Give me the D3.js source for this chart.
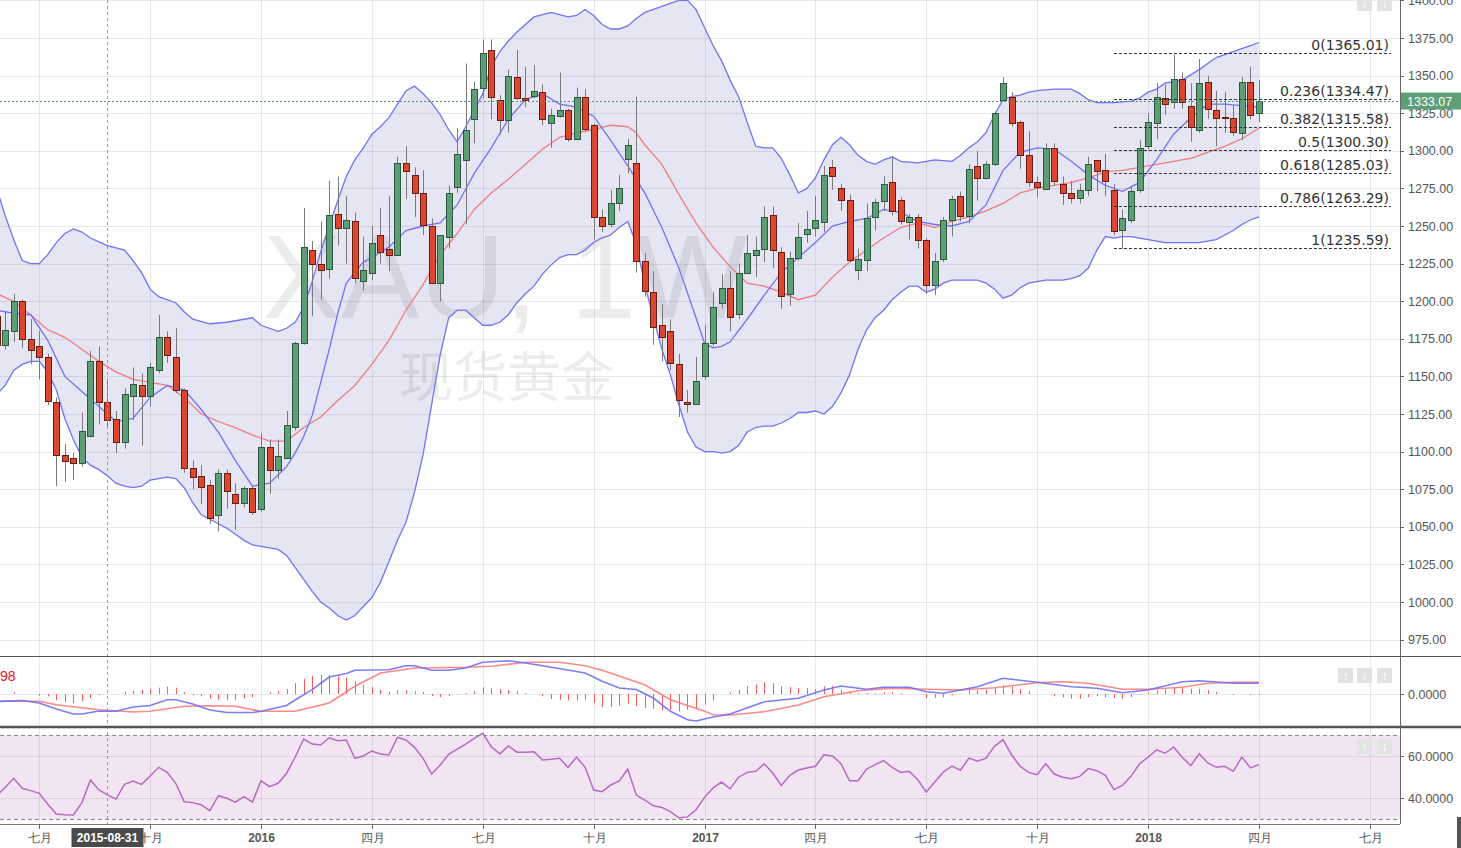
<!DOCTYPE html>
<html>
<head>
<meta charset="utf-8">
<script src="https://cdn.jsdelivr.net/npm/d3@7"></script>
<style>
  html, body { margin: 0; padding: 0; background: #fff; overflow: hidden; }
  svg { display: block; font-family: "Liberation Sans", Arial, sans-serif; }
</style>
</head>
<body>
<svg id="chart" width="1461" height="848"></svg>
<script>
// ———————————————————————————
// 1. Data (weekly XAU candles, index 0 = week of 2015-06-08)
// ———————————————————————————
const week0 = Date.UTC(2015, 5, 8);
const firstK = -1;

const opens = [
  1190,1171,1180,1200,1175,1170,1163,1133,1098,1096,
  1093,1110,1160,1133,1122,1106,1137,1144,1137,1154,
  1176,1163,1141,1089,1084,1078,1058,1086,1072,1066,
  1076,1062,1103,1088,1096,1116,1172,1234,1225,1221,
  1258,1249,1253,1214,1219,1244,1235,1231,1292,1284,
  1272,1250,1212,1243,1276,1294,1321,1342,1367,1334,
  1321,1349,1335,1337,1339,1319,1323,1327,1308,1336,
  1317,1256,1251,1265,1295,1292,1227,1206,1184,1180,
  1158,1133,1132,1150,1172,1199,1209,1192,1219,1231,
  1235,1257,1233,1205,1229,1245,1249,1253,1289,1275,
  1267,1221,1227,1256,1267,1279,1267,1253,1256,1241,
  1211,1228,1254,1270,1257,1290,1282,1291,1334,1336,
  1319,1297,1279,1275,1302,1278,1272,1269,1274,1294,
  1287,1274,1247,1254,1274,1303,1319,1335,1333,1348,
  1330,1314,1346,1327,1322.5,1322,1312,1346,1325
];
const highs = [
  1195,1193,1205,1201,1188,1180,1165,1136,1105,1099,
  1126,1167,1170,1148,1127,1142,1156,1152,1159,1191,
  1180,1182,1142,1094,1091,1081,1088,1088,1079,1077,
  1077,1112,1108,1108,1127,1173,1262,1240,1253,1280,
  1283,1270,1259,1243,1250,1262,1270,1296,1303,1289,
  1287,1255,1244,1277,1315,1358,1346,1374,1374,1337,
  1354,1367,1356,1357,1344,1328,1352,1328,1342,1341,
  1318,1261,1274,1284,1308,1336,1232,1220,1198,1188,
  1165,1141,1163,1184,1206,1218,1220,1225,1244,1243,
  1263,1263,1236,1233,1252,1260,1270,1290,1294,1278,
  1271,1235,1265,1268,1283,1296,1269,1258,1258,1242,
  1232,1256,1270,1273,1291,1300,1293,1326,1349,1339,
  1320,1313,1283,1305,1305,1283,1280,1278,1296,1294,
  1298,1278,1261,1276,1307,1325,1345,1344,1364,1352,
  1345,1361,1350,1340,1339,1330,1349,1356,1347
];
const lows = [
  1168,1168,1173,1169,1158,1148,1131,1077,1080,1081,
  1090,1110,1118,1116,1099,1102,1121,1104,1130,1152,
  1159,1139,1086,1075,1065,1052,1047,1062,1048,1063,
  1058,1060,1072,1082,1095,1114,1171,1190,1201,1215,
  1237,1225,1212,1207,1214,1225,1220,1230,1268,1256,
  1244,1212,1200,1235,1272,1251,1305,1335,1321,1311,
  1312,1334,1329,1335,1317,1302,1322,1306,1307,1313,
  1241,1246,1249,1260,1285,1219,1203,1171,1160,1154,
  1123,1126,1131,1148,1170,1195,1180,1188,1218,1216,
  1226,1222,1195,1197,1227,1239,1243,1246,1274,1260,
  1226,1214,1220,1247,1260,1257,1251,1241,1235,1205,
  1204,1226,1243,1253,1252,1267,1281,1290,1333,1316,
  1288,1276,1269,1274,1277,1264,1265,1265,1270,1273,
  1270,1244,1235,1252,1272,1301,1308,1324,1328,1328,
  1306,1312,1321,1303,1312,1310,1307,1321,1319
];
const closes = [
  1171,1181,1200,1175,1168,1163,1134,1098,1094,1093,
  1114,1160,1133,1121,1107,1138,1145,1137,1156,1176,
  1164,1141,1089,1083,1077,1056,1086,1074,1066,1076,
  1060,1103,1088,1097,1118,1172,1236,1225,1221,1257,
  1249,1254,1215,1221,1239,1233,1231,1292,1287,1272,
  1251,1212,1244,1272,1298,1314,1341,1365,1336,1321,
  1350,1335,1334,1340,1321,1324,1327,1308,1336,1315,
  1256,1250,1265,1275,1304,1227,1207,1183,1176,1159,
  1134,1132,1147,1172,1196,1209,1190,1219,1232,1234,
  1256,1234,1204,1229,1243,1248,1254,1284,1283,1267,
  1227,1228,1255,1266,1278,1260,1253,1256,1241,1211,
  1227,1254,1268,1257,1288,1282,1291,1325,1345,1319,
  1297,1279,1276,1302,1280,1272,1269,1274,1291,1287,
  1280,1247,1255,1273,1302,1319,1336,1331,1348,1333,
  1316,1345,1328,1322,1322,1313,1346,1324,1333.07
];
const lastPrice = 1333.07;

// Bollinger bands + moving averages, [week index, price]
const bbUpper = [
  [-1,1275],[0,1257],[1,1241],[2,1227],[3,1225],[4,1225],[5,1231],[6,1239],[7,1245],[8,1248],
  [9,1246],[10,1242],[12,1237],[14,1234],[15,1227],[16,1219],[17,1208],[18,1203],[20,1199],
  [21,1193],[22,1188],[24,1185],[26,1186],[28,1188],[29,1189],[30,1184],[32,1180],[33,1182],
  [34,1186],[35,1196],[36,1213],[37,1233],[38,1250],[39,1267],[40,1283],[41,1294],[42,1302],
  [43,1311],[44,1316],[45,1322],[46,1331],[47,1340],[48,1343],[49,1338],[50,1332],[51,1324],
  [52,1314],[53,1306],[54,1316],[55,1327],[56,1338],[57,1356],[58,1366],[59,1373],[60,1379],
  [62,1389],[64,1392],[66,1389],[67,1390],[68,1394],[69,1390],[70,1384],[71,1381],[72,1381],
  [73,1383],[74,1388],[75,1392],[76,1394],[77,1396],[78,1398],[79,1400],[80,1400],[81,1394],
  [82,1382],[83,1370],[84,1360],[85,1347],[86,1336],[87,1319],[88,1303],[89,1302],[90,1302],
  [91,1295],[92,1284],[93,1272],[94,1275],[95,1282],[96,1294],[97,1304],[98,1309],[99,1304],
  [100,1297],[101,1293],[102,1291],[103,1294],[104,1296],[105,1293],[107,1292],[109,1294],
  [111,1293],[112,1297],[113,1302],[114,1306],[115,1312],[116,1324],[117,1334],[118,1336],
  [119,1337],[120,1339],[121,1340],[123,1341],[125,1341],[126,1338],[127,1334],[128,1332],
  [130,1332],[132,1333],[133,1335],[134,1339],[135,1341],[136,1345],[137,1346],[138,1347],
  [140,1354],[141,1358],[142,1362],[143,1364],[144,1366],[145,1368],[146,1370],[147,1372]
];
const bbLower = [
  [-1,1138],[0,1144],[1,1154],[2,1158],[3,1160],[4,1160],[5,1153],[6,1141],[7,1122],[8,1108],
  [9,1096],[10,1091],[11,1088],[12,1084],[13,1079],[14,1077],[15,1076],[16,1077],[17,1081],
  [18,1082],[19,1083],[20,1082],[21,1076],[22,1066],[23,1058],[24,1055],[25,1052],[26,1049],
  [27,1045],[28,1041],[29,1038],[30,1037],[31,1036],[32,1035],[33,1031],[34,1023],[35,1015],
  [36,1007],[37,1000],[38,996],[39,991],[40,988],[41,991],[42,997],[43,1003],[44,1013],
  [45,1027],[46,1041],[47,1053],[48,1073],[49,1098],[50,1131],[51,1164],[52,1189],[53,1194],
  [54,1194],[55,1189],[56,1184],[57,1184],[58,1186],[59,1191],[60,1199],[61,1205],[62,1210],
  [63,1218],[64,1224],[65,1229],[66,1231],[67,1231],[68,1234],[69,1239],[70,1242],[71,1244],
  [72,1249],[73,1253],[74,1238],[75,1211],[76,1189],[77,1168],[78,1151],[79,1131],[80,1113],
  [81,1103],[82,1100],[83,1100],[84,1099],[85,1100],[86,1104],[87,1113],[88,1116],[89,1117],
  [90,1117],[91,1119],[92,1122],[93,1126],[94,1126],[95,1127],[96,1125],[97,1130],[98,1139],
  [99,1151],[100,1168],[101,1181],[102,1189],[103,1194],[104,1201],[105,1206],[106,1210],
  [107,1210],[108,1206],[109,1208],[110,1212],[111,1214],[112,1214],[113,1214],[114,1214],
  [115,1212],[116,1208],[117,1202],[118,1204],[119,1209],[120,1212],[121,1213],[122,1214],
  [124,1214],[125,1215],[126,1217],[127,1222],[128,1234],[129,1243],[130,1242],[131,1243],
  [132,1243],[133,1242],[134,1241],[135,1240],[136,1239],[137,1239],[139,1239],[140,1239],
  [141,1240],[142,1241],[143,1244],[144,1247],[145,1251],[146,1254],[147,1256]
];
const maSlow = [
  [-1,1205],[1,1200],[3,1191],[5,1181],[7,1176],[9,1168],[11,1160],[13,1153],[15,1148],
  [17,1146],[19,1144],[21,1136],[23,1125],[25,1120],[27,1116],[29,1111],[31,1107],[33,1107],
  [35,1116],[37,1123],[39,1134],[41,1144],[43,1158],[45,1174],[47,1194],[49,1211],[51,1231],
  [53,1245],[55,1261],[57,1272],[59,1281],[61,1291],[63,1301],[65,1309],[67,1312],[69,1314],
  [71,1317],[73,1316],[74,1312],[75,1304],[77,1291],[79,1271],[81,1252],[83,1236],[85,1223],
  [87,1212],[89,1210],[91,1206],[93,1201],[95,1204],[97,1216],[99,1226],[101,1234],[103,1242],
  [105,1249],[107,1252],[109,1249],[111,1253],[113,1256],[115,1260],[117,1265],[119,1272],
  [121,1275],[123,1277],[125,1279],[127,1282],[129,1286],[131,1287],[133,1289],[135,1291],
  [137,1293],[139,1295],[141,1299],[143,1303],[145,1308],[147,1315]
];
const maFast = [
  [-1,1194],[1,1192],[3,1191],[5,1174],[7,1150],[9,1140],[11,1130],[13,1120],[15,1122],
  [17,1136],[19,1144],[21,1141],[23,1128],[25,1113],[27,1094],[29,1077],[31,1079],[33,1090],
  [34,1099],[35,1110],[36,1124],[37,1146],[38,1168],[39,1192],[40,1212],[42,1226],[43,1229],
  [45,1236],[47,1247],[49,1250],[51,1252],[53,1264],[55,1285],[57,1302],[59,1321],[61,1334],
  [63,1338],[65,1331],[67,1329],[69,1323],[71,1307],[73,1290],[75,1272],[77,1249],[79,1222],
  [81,1189],[82,1172],[83,1169],[84,1170],[85,1173],[87,1188],[89,1204],[91,1219],[93,1229],
  [95,1239],[97,1250],[99,1253],[101,1255],[103,1261],[105,1259],[107,1253],[109,1251],
  [111,1250],[113,1253],[115,1264],[117,1287],[119,1299],[121,1302],[123,1301],[125,1293],
  [127,1284],[129,1277],[131,1273],[133,1279],[135,1294],[137,1311],[139,1322],[141,1331],
  [143,1331],[145,1330],[147,1329]
];

// MACD pane, [week index, value]
const macdLine = [
  [-1,-7.5],[2,-6.5],[4,-9],[6,-15],[8,-20],[9,-20],[11,-17],[13,-17.3],[15,-13],[17,-11.5],
  [19,-5.7],[20,-5.7],[22,-10],[24,-16],[26,-18.5],[29,-18.5],[30,-17.3],[33,-11.5],[34,-6],
  [36,4.3],[38,17],[40,20.5],[41,23.7],[45,24.3],[47,28.3],[48,28.3],[50,23.7],[52,23.7],
  [54,26],[56,31.7],[59,33.3],[61,31],[63,28.3],[68,21],[70,12.7],[72,6],[74,4.5],[76,-4],
  [78,-17.3],[80,-25.7],[81,-27],[83,-23],[85,-20],[89,-7.7],[93,-4.3],[96,4],[98,8],
  [101,4.7],[103,6.7],[106,6.7],[108,2.3],[110,0.7],[112,4],[114,7.3],[117,15.7],[121,11.7],
  [125,7.3],[128,5.7],[131,1.3],[134,4],[138,12.3],[140,13.3],[142,12],[144,10.7],[147,10.7]
];
const macdSignal = [
  [-1,-7.3],[4,-7.3],[6,-10.7],[11,-15.7],[15,-18],[17,-17.3],[21,-12.3],[24,-11.7],[27,-12.3],
  [30,-17.3],[34,-17.3],[38,-9],[41,7.7],[44,21],[48,26],[54,26.7],[57,27.7],[61,31.7],
  [65,31.7],[68,28.3],[70,23.7],[75,9.3],[78,-5.7],[82,-17.3],[83,-20.7],[85,-21],[89,-17.7],
  [93,-11],[96,-2.7],[100,3.3],[104,5.7],[108,4.7],[112,4],[116,6.3],[121,11.3],[124,12.3],
  [127,10.7],[131,4.7],[134,4.7],[138,6.7],[141,10.7],[144,11.7],[147,11.7]
];
// one histogram value per candle, from firstK
const macdHist = [
  0,0,1.7,0,0,-1.7,-2.3,-6.3,-8,-9,
  -7.3,-4,-1,0,0,2,3,4.3,5.3,6.3,
  7.3,6.3,1.7,-1.3,-2.3,-4.3,-5.7,-6.3,-5.7,-4.3,
  -3.3,0,1.7,2.7,5,11,15,18.3,19,19,
  17.7,16,12.7,9.3,7,4.3,2,3.7,3.7,2.7,
  2,-2,-3,-2,-0.7,1,2.7,6.7,6,5,
  3.7,2.7,1,0,-2.3,-5,-5.7,-6.3,-6.3,-5.7,
  -9,-13,-13,-11.7,-9.7,-12.3,-14,-15,-16.3,-16.3,
  -17.3,-15.7,-15,-10.7,-6.3,0,1.7,4.3,7.7,9.3,
  11.7,11,7.7,7,6,6,5,7.7,8.3,4.3,
  1.7,1,1,1,1.7,1.7,1,0,0,-4,
  -4,-3.3,-1.3,0,3.7,3.7,4.3,6,8.7,7.7,
  5,2.7,0,0,-2.3,-3.3,-4.7,-4.7,-3.3,-2.3,
  -3.3,-4,-4.7,-3,-0.7,1.7,3.7,5.3,6,6,
  5.3,5.3,3.7,2,0,-1,0,-1,-1
];
// RSI, one value per candle, from firstK
const rsi = [
  41,45,49.4,44.6,43.5,42.2,37,32.4,32,31.9,
  37.8,48.6,43.8,41.5,39.5,46.5,48.1,46.5,50.5,54.6,
  52.2,47,38.2,37.8,36.7,34,41.1,39.9,38,40.6,
  38,48.2,45.4,47,51.8,59.4,68.1,65.7,65.2,68.7,
  67.3,67.6,58.9,60,62.4,61,60.5,68.9,67.6,64.1,
  58.9,51.4,55.7,60.8,63.3,65.7,68.4,70.8,64.4,61,
  64.8,61.8,61.8,62,58.1,58.4,58.9,54.6,59.4,54.6,
  43.8,43,46.2,48.1,53.7,41.4,39,36.3,35.5,33.5,
  30.6,31,34.4,40.3,44.8,47.6,44.4,49.9,52.2,52.7,
  56.3,51.9,46,50.8,53.3,54.3,55.1,60.6,60,56.3,
  48.2,48.2,53.8,55.9,57.8,54.6,52.2,52.7,48.7,42.9,
  47.6,52.4,55.2,53.2,59,57.5,59,64.6,67.8,60.6,
  55.1,52.2,51.1,56.3,51.4,49.9,49.2,50.3,54,53,
  50.8,44,46,50.3,56.3,59.4,62.9,61.3,64.3,59.4,
  55.4,61.1,56.7,54.6,55.1,52.7,59.5,54.3,55.9
];

// Fibonacci retracement
const fibRatios = [0, 0.236, 0.382, 0.5, 0.618, 0.786, 1];
const fibPrices = [1365.01, 1334.47, 1315.58, 1300.30, 1285.03, 1263.29, 1235.59];
const fibStartK = 130;

// axes
const priceTicks = d3.range(975, 1401, 25);
const tickDates = ["2015-07-06","2015-10-05","2016-01-04","2016-04-04","2016-07-04","2016-10-03",
  "2017-01-02","2017-04-03","2017-07-03","2017-10-02","2018-01-01","2018-04-02","2018-07-02"];
const tickLabels = ["七月","十月","2016","四月","七月","十月","2017","四月","七月","十月","2018","四月","七月"];
const cursorDate = "2015-08-31";

// ———————————————————————————
// 2. Layout + scales
// ———————————————————————————
const svg = d3.select("#chart");
const width = 1461;
const plotR = 1400;
const mainB = 656, macdT = 657, macdB = 727, rsiT = 728, rsiB = 824;

const weekDate = k => new Date(week0 + k * 7 * 864e5);
const x = d3.scaleUtc().domain([weekDate(-1), weekDate(160)]).range([-3.4, 1369.8]);
const y = d3.scaleLinear().domain([1000, 1400]).range([602, 0.4]);
const yMacd = d3.scaleLinear().domain([-30, 30]).range([724, 664]);
const yRsi = d3.scaleLinear().domain([30, 70]).range([819, 735]);
const xk = k => x(weekDate(k));

const defs = svg.append("defs");
defs.append("clipPath").attr("id", "clipMain")
  .append("rect").attr("x", 0).attr("y", 0).attr("width", plotR).attr("height", mainB);
defs.append("clipPath").attr("id", "clipMacd")
  .append("rect").attr("x", 0).attr("y", macdT).attr("width", plotR).attr("height", macdB - macdT);
defs.append("clipPath").attr("id", "clipRsi")
  .append("rect").attr("x", 0).attr("y", rsiT).attr("width", plotR).attr("height", rsiB - rsiT);

// ———————————————————————————
// 3. Backgrounds + grid
// ———————————————————————————
svg.append("rect").attr("width", width).attr("height", 848).attr("fill", "#fff");

// RSI band background
svg.append("rect")
  .attr("x", 0).attr("y", yRsi(70)).attr("width", plotR).attr("height", yRsi(30) - yRsi(70))
  .attr("fill", "#f1e5f2");

const grid = svg.append("g").attr("stroke", "rgba(0,0,0,0.085)").attr("stroke-width", 1);
grid.selectAll("line.v").data(tickDates).join("line")
  .attr("x1", d => Math.round(x(new Date(d))) + 0.5).attr("x2", d => Math.round(x(new Date(d))) + 0.5)
  .attr("y1", 0).attr("y2", rsiB);
grid.selectAll("line.h").data(priceTicks).join("line")
  .attr("x1", 0).attr("x2", plotR)
  .attr("y1", d => Math.round(y(d)) + 0.5).attr("y2", d => Math.round(y(d)) + 0.5);
grid.append("line").attr("x1", 0).attr("x2", plotR)
  .attr("y1", Math.round(yMacd(0)) + 0.5).attr("y2", Math.round(yMacd(0)) + 0.5);
[40, 60].forEach(v => grid.append("line").attr("x1", 0).attr("x2", plotR)
  .attr("y1", Math.round(yRsi(v)) + 0.5).attr("y2", Math.round(yRsi(v)) + 0.5));

// ———————————————————————————
// 4. Main price pane
// ———————————————————————————
const main = svg.append("g").attr("clip-path", "url(#clipMain)");
const priceLine = d3.line().x(d => xk(d[0])).y(d => y(d[1]));

// Bollinger fill
main.append("path")
  .attr("d", priceLine(bbUpper.concat(bbLower.slice().reverse())) + "Z")
  .attr("fill", "rgba(70,70,170,0.14)");

// watermark
main.append("text").attr("x", 505).attr("y", 318).attr("text-anchor", "middle")
  .attr("font-size", 118).attr("fill", "rgba(0,0,0,0.075)").text("XAU, 1W");
main.append("text").attr("x", 507).attr("y", 397).attr("text-anchor", "middle")
  .attr("font-family", "'Noto Sans CJK SC', sans-serif")
  .attr("font-size", 54).attr("fill", "rgba(0,0,0,0.075)").text("现货黄金");

main.append("path").attr("d", priceLine(maSlow))
  .attr("fill", "none").attr("stroke", "#ef7d7d").attr("stroke-width", 1.3);
[maFast, bbUpper, bbLower].forEach(s => main.append("path").attr("d", priceLine(s))
  .attr("fill", "none").attr("stroke", "#7272f6").attr("stroke-width", 1.3));

// candles
const candles = opens.map((o, i) => ({ k: i + firstK, o, h: highs[i], l: lows[i], c: closes[i] }));
const cg = main.append("g");
cg.selectAll("line").data(candles).join("line")
  .attr("x1", d => Math.round(xk(d.k)) + 0.5).attr("x2", d => Math.round(xk(d.k)) + 0.5)
  .attr("y1", d => y(d.h)).attr("y2", d => y(d.l))
  .attr("stroke", "#7a7a7a").attr("stroke-width", 1);
cg.selectAll("rect").data(candles).join("rect")
  .attr("x", d => Math.round(xk(d.k)) - 2.5)
  .attr("y", d => Math.round(y(Math.max(d.o, d.c))) + 0.5)
  .attr("width", 6)
  .attr("height", d => Math.max(1, Math.round(Math.abs(y(d.o) - y(d.c)))))
  .attr("fill", d => d.c >= d.o ? "#5e9e76" : "#d9472f")
  .attr("stroke", d => d.c >= d.o ? "#2d5a3c" : "#6a1c12")
  .attr("stroke-width", 1);

// last price line
main.append("line").attr("x1", 0).attr("x2", plotR)
  .attr("y1", Math.round(y(lastPrice)) + 0.5).attr("y2", Math.round(y(lastPrice)) + 0.5)
  .attr("stroke", "#4f9a6c").attr("stroke-dasharray", "2,2");

// fibonacci levels
const fib = main.append("g");
fib.selectAll("line").data(fibPrices).join("line")
  .attr("x1", xk(fibStartK)).attr("x2", 1391)
  .attr("y1", d => Math.round(y(d)) + 0.5).attr("y2", d => Math.round(y(d)) + 0.5)
  .attr("stroke", "#333").attr("stroke-dasharray", "3,2");
fib.selectAll("text").data(fibPrices).join("text")
  .attr("x", 1389).attr("y", d => y(d) - 3).attr("text-anchor", "end")
  .attr("font-family", "'DejaVu Sans', sans-serif").attr("font-size", 14).attr("fill", "#333")
  .text((d, i) => `${fibRatios[i]}(${d.toFixed(2)})`);

// ———————————————————————————
// 5. MACD pane
// ———————————————————————————
const macd = svg.append("g").attr("clip-path", "url(#clipMacd)");
macd.selectAll("line").data(macdHist.map((v, i) => ({ k: i + firstK, v })).filter(d => d.v !== 0))
  .join("line")
  .attr("x1", d => Math.round(xk(d.k)) + 0.5).attr("x2", d => Math.round(xk(d.k)) + 0.5)
  .attr("y1", yMacd(0)).attr("y2", d => yMacd(d.v))
  .attr("stroke", "#ff5a5a").attr("stroke-width", 1);
const macdPath = d3.line().x(d => xk(d[0])).y(d => yMacd(d[1]));
macd.append("path").attr("d", macdPath(macdSignal))
  .attr("fill", "none").attr("stroke", "#ff7b7b").attr("stroke-width", 1.6).attr("opacity", 0.9);
macd.append("path").attr("d", macdPath(macdLine))
  .attr("fill", "none").attr("stroke", "#6f6ff8").attr("stroke-width", 1.6).attr("opacity", 0.9);
svg.append("text").attr("x", 0).attr("y", 681).attr("font-size", 14).attr("fill", "#e8141a").text("98");

// ———————————————————————————
// 6. RSI pane
// ———————————————————————————
const rsiG = svg.append("g").attr("clip-path", "url(#clipRsi)");
[30, 70].forEach(v => rsiG.append("line").attr("x1", 0).attr("x2", plotR)
  .attr("y1", Math.round(yRsi(v)) + 0.5).attr("y2", Math.round(yRsi(v)) + 0.5)
  .attr("stroke", "#8a8a8a").attr("stroke-dasharray", "4,3"));
rsiG.append("path")
  .attr("d", d3.line().x((d, i) => xk(i + firstK)).y(d => yRsi(d))(rsi))
  .attr("fill", "none").attr("stroke", "#b76ac2").attr("stroke-width", 1.5);

// ———————————————————————————
// 7. Cursor, borders, axes
// ———————————————————————————
const cx = Math.round(x(new Date(cursorDate))) + 0.5;
svg.append("line").attr("x1", cx).attr("x2", cx).attr("y1", 0).attr("y2", rsiB)
  .attr("stroke", "#9a9a9a").attr("stroke-dasharray", "3,3");

svg.append("line").attr("x1", 0).attr("x2", width).attr("y1", 656.5).attr("y2", 656.5)
  .attr("stroke", "#555");
svg.append("line").attr("x1", 0).attr("x2", width).attr("y1", 727).attr("y2", 727)
  .attr("stroke", "#555").attr("stroke-width", 2.5);
svg.append("line").attr("x1", 0).attr("x2", plotR).attr("y1", rsiB + 0.5).attr("y2", rsiB + 0.5)
  .attr("stroke", "#777");
svg.append("line").attr("x1", plotR + 0.5).attr("x2", plotR + 0.5).attr("y1", 0).attr("y2", rsiB)
  .attr("stroke", "#666");

// right price axis
const ax = svg.append("g").attr("font-size", 12.5).attr("fill", "#555");
ax.selectAll("line").data(priceTicks).join("line")
  .attr("x1", plotR).attr("x2", plotR + 4)
  .attr("y1", d => Math.round(y(d)) + 0.5).attr("y2", d => Math.round(y(d)) + 0.5)
  .attr("stroke", "#666");
ax.selectAll("text").data(priceTicks).join("text")
  .attr("x", 1408).attr("y", d => y(d)).attr("dy", "0.36em")
  .text(d => d.toFixed(2));
[[yMacd(0), "0.0000"], [yRsi(60), "60.0000"], [yRsi(40), "40.0000"]].forEach(([py, t]) => {
  ax.append("line").attr("x1", plotR).attr("x2", plotR + 4)
    .attr("y1", Math.round(py) + 0.5).attr("y2", Math.round(py) + 0.5).attr("stroke", "#666");
  ax.append("text").attr("x", 1408).attr("y", py).attr("dy", "0.36em").text(t);
});

// last price tag
const ly = y(lastPrice);
svg.append("rect").attr("x", 1401).attr("y", ly - 8.5).attr("width", 60).attr("height", 17)
  .attr("fill", "#5e9f77");
svg.append("text").attr("x", 1407).attr("y", ly).attr("dy", "0.36em")
  .attr("font-size", 12.5).attr("fill", "#fff").text(lastPrice.toFixed(2));

// time axis
const tx = svg.append("g").attr("font-size", 12).attr("fill", "#555");
tickDates.forEach((d, i) => {
  const px = Math.round(x(new Date(d))) + 0.5;
  tx.append("line").attr("x1", px).attr("x2", px).attr("y1", rsiB).attr("y2", rsiB + 5)
    .attr("stroke", "#666");
  tx.append("text").attr("x", px).attr("y", 842).attr("text-anchor", "middle")
    .attr("font-weight", /^\d/.test(tickLabels[i]) ? "bold" : "normal")
    .text(tickLabels[i]);
});
svg.append("rect").attr("x", cx - 36).attr("y", 828).attr("width", 72).attr("height", 19)
  .attr("fill", "#4a4a4a");
svg.append("text").attr("x", cx).attr("y", 842).attr("text-anchor", "middle")
  .attr("font-size", 12).attr("font-weight", "bold").attr("fill", "#fff").text(cursorDate);

// pane buttons
const buttons = [
  { y: -4, xs: [1357, 1377], t: ["↓", "↓"] },
  { y: 668, xs: [1338, 1357, 1377], t: ["↑", "↓", "↕"] },
  { y: 739, xs: [1357, 1377], t: ["↑", "↕"] }
];
buttons.forEach(b => b.xs.forEach((bx, i) => {
  svg.append("rect").attr("x", bx).attr("y", b.y).attr("width", 15).attr("height", 15)
    .attr("fill", "#e2e2e2");
  svg.append("text").attr("x", bx + 7.5).attr("y", b.y + 12).attr("text-anchor", "middle")
    .attr("font-size", 12).attr("font-weight", "bold").attr("fill", "#fff").text(b.t[i]);
}));
svg.append("rect").attr("x", 1457).attr("y", 817).attr("width", 4).attr("height", 31).attr("fill", "#555");
</script>
</body>
</html>
